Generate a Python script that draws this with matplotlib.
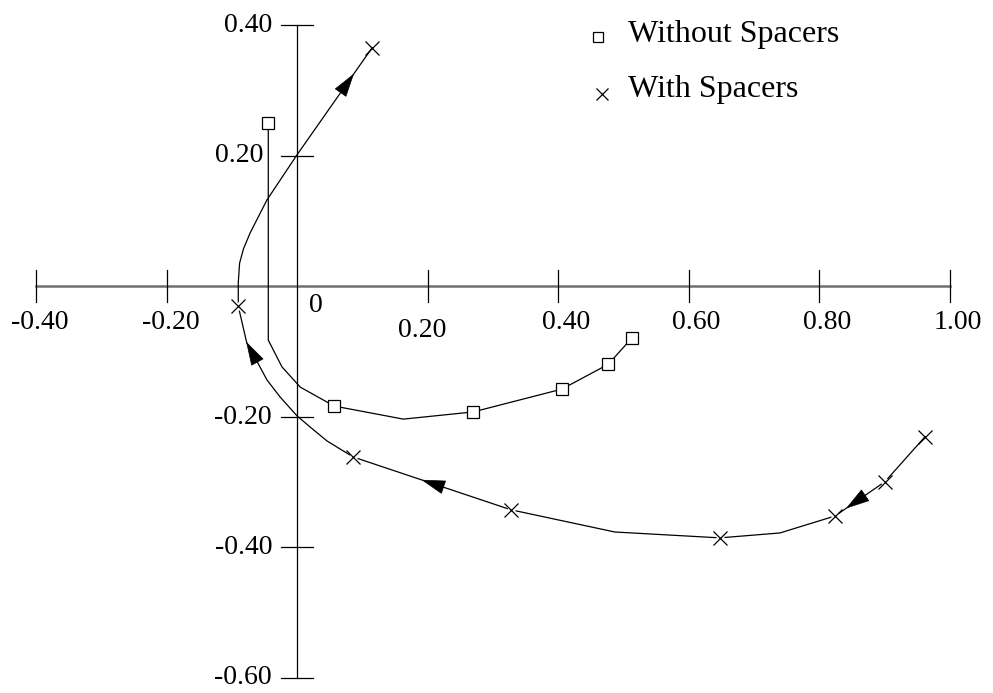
import numpy as np
import matplotlib
matplotlib.use("Agg")
import matplotlib.pyplot as plt
from matplotlib.patches import Polygon

plt.rcParams['font.family'] = ['Liberation Serif', 'DejaVu Serif']

# ---------------- data ----------------
# Without spacers (square markers at selected vertices)
wo_x = [-0.044, -0.044, -0.023, 0.005, 0.057, 0.163, 0.270, 0.406, 0.477, 0.513]
wo_y = [0.250, -0.083, -0.124, -0.155, -0.184, -0.204, -0.193, -0.158, -0.120, -0.080]
wo_marks = [0, 4, 6, 7, 8, 9]

# With spacers (ordered along the direction of the arrows)
ws_x = [0.9625, 0.901, 0.8245, 0.740, 0.648, 0.487, 0.328, 0.086, 0.046, 0.020, 0.000,
        -0.026, -0.046, -0.060, -0.077, -0.090, -0.090, -0.088, -0.082, -0.072, -0.046, 0.000, 0.115]
ws_y = [-0.231, -0.300, -0.3525, -0.3785, -0.386, -0.377, -0.343, -0.262, -0.2375, -0.216, -0.199,
        -0.170, -0.144, -0.118, -0.087, -0.031, 0.005, 0.035, 0.057, 0.081, 0.132, 0.201, 0.365]
ws_marks = [0, 1, 2, 4, 6, 7, 15, 22]
# arrows: (segment start index, fraction along segment where the tip sits)
ws_arrows = [(1, 0.76), (6, 0.56), (13, 1.0), (21, 0.75)]

x_ticks = [-0.40, -0.20, 0.20, 0.40, 0.60, 0.80, 1.00]
x_tick_labels = ['-0.40', '-0.20', '0.20', '0.40', '0.60', '0.80', '1.00']
y_ticks = [0.40, 0.20, -0.20, -0.40, -0.60]
y_tick_labels = ['0.40', '0.20', '-0.20', '-0.40', '-0.60']
legend_labels = ['Without Spacers', 'With Spacers']

# ---------------- figure ----------------
W, H, DPI = 993, 693, 100
fig = plt.figure(figsize=(W / DPI, H / DPI), dpi=DPI)
ax = fig.add_axes([0, 0, 1, 1])
S = 652.5  # pixels per data unit
x0_px, y0_px = 297, 286
ax.set_xlim(-x0_px / S, (W - x0_px) / S)
ax.set_ylim(-(H - y0_px) / S, y0_px / S)
ax.axis('off')

px = 1.0 / S
FS = 20
FS_LEG = 23

# axes lines
ax.plot([x_ticks[0], x_ticks[-1]], [0, 0], color='#707070', lw=1.8, zorder=1)
ax.plot([0, 0], [y_ticks[-1], y_ticks[0]], color='black', lw=0.9, zorder=1)
tl = 16 * px
for xt in x_ticks:
    ax.plot([xt, xt], [-tl, tl], color='black', lw=0.9, zorder=1)
for yt in y_ticks:
    ax.plot([-tl, tl], [yt, yt], color='black', lw=0.9, zorder=1)

# tick labels
for xt, lab in zip(x_ticks, x_tick_labels):
    if lab == '0.20':
        ax.text(xt - 5 * px, -51 * px, lab, ha='center', va='baseline', fontsize=FS)
    elif xt < 0:
        ax.text(xt + 4 * px, -43 * px, lab, ha='center', va='baseline', fontsize=FS)
    else:
        ax.text(xt + 8 * px, -43 * px, lab, ha='center', va='baseline', fontsize=FS)
for yt, lab in zip(y_ticks, y_tick_labels):
    xr = -34 * px if lab == '0.20' else -25 * px
    ax.text(xr, yt - 7 * px, lab, ha='right', va='baseline', fontsize=FS)
ax.text(19 * px, -26 * px, '0', ha='center', va='baseline', fontsize=FS)

# without spacers
ax.plot(wo_x, wo_y, color='black', lw=0.9, zorder=2)
ax.plot([wo_x[i] for i in wo_marks], [wo_y[i] for i in wo_marks], ls='none',
        marker='s', ms=9, mfc='white', mec='black', mew=0.9, zorder=4)

# with spacers
ax.plot(ws_x, ws_y, color='black', lw=0.9, zorder=2)
inner = [i for i in ws_marks if i not in (0, len(ws_x) - 1)]
ax.plot([ws_x[i] for i in inner], [ws_y[i] for i in inner], ls='none',
        marker='o', ms=6, mfc='white', mec='none', zorder=3)
ax.plot([ws_x[i] for i in ws_marks], [ws_y[i] for i in ws_marks], ls='none',
        marker='x', ms=10, mec='black', mew=0.9, zorder=4)

# arrowheads
L, HW = 22 * px, 6.5 * px
for i, t in ws_arrows:
    xa, ya = ws_x[i], ws_y[i]
    xb, yb = ws_x[i + 1], ws_y[i + 1]
    tip = np.array([xa + t * (xb - xa), ya + t * (yb - ya)])
    d = np.array([xb - xa, yb - ya])
    d = d / np.hypot(*d)
    n = np.array([-d[1], d[0]])
    base = tip - L * d
    poly = Polygon([tip, base + HW * n, base - HW * n], closed=True,
                   fc='black', ec='black', lw=0.5, zorder=5)
    ax.add_patch(poly)

# legend
ax.plot([(598 - x0_px) * px], [(y0_px - 37) * px], ls='none', marker='s', ms=7,
        mfc='white', mec='black', mew=0.9)
ax.plot([(602 - x0_px) * px], [(y0_px - 94) * px], ls='none', marker='x', ms=9,
        mec='black', mew=0.9)
ax.text((628 - x0_px) * px, (y0_px - 42) * px, legend_labels[0], ha='left', va='baseline', fontsize=FS_LEG)
ax.text((628 - x0_px) * px, (y0_px - 97) * px, legend_labels[1], ha='left', va='baseline', fontsize=FS_LEG)

fig.savefig('out.png', dpi=DPI)
